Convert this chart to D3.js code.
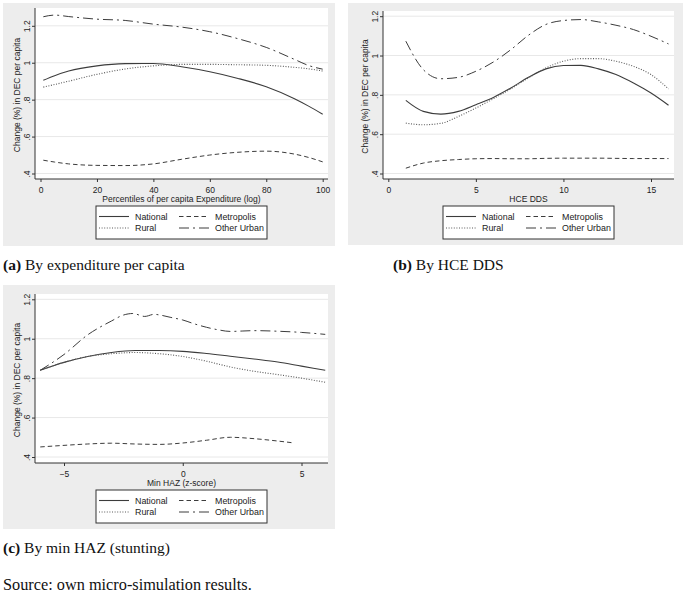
<!DOCTYPE html>
<html><head><meta charset="utf-8">
<script src="https://cdn.jsdelivr.net/npm/d3@7"></script>
<style>body{margin:0;background:#fff;} svg{display:block;}</style>
</head><body>
<svg id="chart" width="685" height="601"></svg>
<script>
// ---------- DATA ----------
const seriesNames = ["National", "Rural", "Metropolis", "Other Urban"];
const yTicks = [0.4, 0.6, 0.8, 1.0, 1.2];
const yTickLabels = [".4", ".6", ".8", "1", "1.2"];
const yTitle = "Change (%) in DEC per capita";

// (a) By expenditure per capita
const aX = [1, 5, 10, 20, 30, 40, 50, 60, 70, 80, 90, 95, 100];
const aNational   = [0.905, 0.930, 0.955, 0.983, 0.995, 0.996, 0.978, 0.951, 0.915, 0.870, 0.805, 0.765, 0.721];
const aRural      = [0.868, 0.882, 0.900, 0.937, 0.966, 0.983, 0.991, 0.991, 0.989, 0.986, 0.975, 0.967, 0.955];
const aMetropolis = [0.472, 0.462, 0.452, 0.444, 0.443, 0.452, 0.477, 0.500, 0.515, 0.521, 0.505, 0.487, 0.463];
const aOtherUrban = [1.249, 1.258, 1.250, 1.236, 1.229, 1.209, 1.193, 1.168, 1.130, 1.083, 1.018, 0.985, 0.965];
const aXTicks = [0, 20, 40, 60, 80, 100];
const aXTitle = "Percentiles of per capita Expenditure (log)";
const aCaption = ["(a)", " By expenditure per capita"];

// (b) By HCE DDS
const bX = [1, 2, 3, 4, 5, 6, 7, 8, 9, 10, 11, 12, 13, 14, 15, 16];
const bNational   = [0.772, 0.716, 0.702, 0.716, 0.750, 0.787, 0.835, 0.889, 0.932, 0.949, 0.950, 0.932, 0.903, 0.860, 0.809, 0.747];
const bRural      = [0.656, 0.648, 0.655, 0.690, 0.733, 0.780, 0.831, 0.886, 0.937, 0.971, 0.984, 0.984, 0.971, 0.945, 0.903, 0.830];
const bMetropolis = [0.427, 0.453, 0.465, 0.471, 0.475, 0.476, 0.475, 0.475, 0.477, 0.478, 0.478, 0.478, 0.477, 0.476, 0.476, 0.476];
const bOtherUrban = [1.073, 0.928, 0.882, 0.889, 0.920, 0.967, 1.030, 1.103, 1.158, 1.178, 1.183, 1.171, 1.154, 1.132, 1.098, 1.059];
const bXTicks = [0, 5, 10, 15];
const bXTitle = "HCE DDS";
const bCaption = ["(b)", " By HCE DDS"];

// (c) By min HAZ (stunting)
const cX = [-6, -5, -4, -3, -2, -1, 0, 1, 2, 3, 4, 5, 6];
const cNational = [0.840, 0.880, 0.910, 0.930, 0.940, 0.940, 0.936, 0.925, 0.911, 0.897, 0.882, 0.861, 0.840];
const cRural    = [0.840, 0.880, 0.910, 0.924, 0.930, 0.924, 0.910, 0.886, 0.857, 0.835, 0.818, 0.800, 0.779];
const cMetroX = [-6, -5, -4, -3, -2, -1, 0, 1, 2, 3, 4, 4.7];
const cMetropolis = [0.451, 0.459, 0.466, 0.470, 0.466, 0.464, 0.471, 0.485, 0.500, 0.493, 0.481, 0.471];
const cOtherX = [-6, -5, -4, -3, -2.5, -2.1, -1.6, -1.2, -1, -0.5, 0, 0.5, 1, 1.5, 2, 2.5, 3, 4, 5, 6];
const cOtherUrban = [0.840, 0.920, 1.020, 1.090, 1.120, 1.128, 1.113, 1.124, 1.121, 1.108, 1.095, 1.075, 1.058, 1.045, 1.037, 1.039, 1.041, 1.038, 1.032, 1.022];
const cXTicks = [-5, 0, 5];
const cXTitle = "Min HAZ (z-score)";
const cCaption = ["(c)", " By min HAZ (stunting)"];

const sourceNote = "Source: own micro-simulation results.";

// ---------- STYLE ----------
const sansFont = "'Liberation Sans', Arial, Helvetica, sans-serif";
const serifFont = "'Liberation Serif', 'Times New Roman', serif";
const lineStyle = {
  "National":    { dash: null,        color: "#3c3c3c", width: 1.1 },
  "Rural":       { dash: "1,1.6",     color: "#5a5a5a", width: 1.1 },
  "Metropolis":  { dash: "4.5,3",     color: "#3c3c3c", width: 1.0 },
  "Other Urban": { dash: "10,4,2,4",  color: "#3c3c3c", width: 1.0 }
};

const svg = d3.select("#chart");

function drawPanel(cfg) {
  const g = svg.append("g");
  const [bx0, by0, bx1, by1] = cfg.bg;
  const [px0, py0, px1, py1] = cfg.plot;
  g.append("rect").attr("x", bx0).attr("y", by0).attr("width", bx1 - bx0).attr("height", by1 - by0).attr("fill", "#ededed");
  g.append("rect").attr("x", px0).attr("y", py0).attr("width", px1 - px0).attr("height", py1 - py0).attr("fill", "#ffffff");

  const x = d3.scaleLinear().domain(cfg.xDom).range(cfg.xRange);
  const y = d3.scaleLinear().domain([0.4, 1.2]).range(cfg.yRange);

  // gridlines
  g.append("g").selectAll("line").data(yTicks).join("line")
    .attr("x1", px0).attr("x2", px1)
    .attr("y1", d => y(d)).attr("y2", d => y(d))
    .attr("stroke", "#e8e8e8").attr("stroke-width", 1);

  // series
  const line = d3.line().x(d => x(d[0])).y(d => y(d[1])).curve(d3.curveMonotoneX);
  cfg.series.forEach(s => {
    const st = lineStyle[s.name];
    const pts = s.xs.map((xv, i) => [xv, s.ys[i]]);
    g.append("path").datum(pts).attr("d", line)
      .attr("fill", "none").attr("stroke", st.color).attr("stroke-width", st.width)
      .attr("stroke-dasharray", st.dash);
  });

  // y axis
  const yAxis = d3.axisLeft(y).tickValues(yTicks).tickSize(3).tickFormat((d, i) => yTickLabels[i]);
  const ya = g.append("g").attr("transform", `translate(${px0},0)`).call(yAxis);
  ya.select(".domain").remove();
  ya.selectAll(".tick line").attr("stroke", "#333");
  ya.selectAll(".tick text")
    .attr("transform", "rotate(-90)")
    .attr("x", 0).attr("y", -5.5).attr("dy", 0)
    .attr("text-anchor", "middle")
    .attr("font-family", sansFont).attr("font-size", 8.5).attr("fill", "#222");
  g.append("line").attr("x1", px0).attr("x2", px0).attr("y1", py0).attr("y2", py1)
    .attr("stroke", "#333").attr("stroke-width", 1);

  // x axis
  const xAxis = d3.axisBottom(x).tickValues(cfg.xTicks).tickSize(3).tickPadding(4.5);
  const xa = g.append("g").attr("transform", `translate(0,${py1})`).call(xAxis);
  xa.select(".domain").remove();
  xa.selectAll(".tick line").attr("stroke", "#333");
  xa.selectAll(".tick text").attr("font-family", sansFont).attr("font-size", 8.5).attr("fill", "#222");
  g.append("line").attr("x1", px0).attr("x2", px1).attr("y1", py1).attr("y2", py1)
    .attr("stroke", "#333").attr("stroke-width", 1);

  // titles
  const cx = (px0 + px1) / 2;
  g.append("text").attr("x", cx).attr("y", py1 + 20).attr("dy", "0.35em")
    .attr("text-anchor", "middle").attr("font-family", sansFont).attr("font-size", 8.5).attr("fill", "#222")
    .text(cfg.xTitle);
  const cy = (py0 + py1) / 2 + 1.5;
  g.append("text").attr("transform", `translate(${px0 - 17.5},${cy}) rotate(-90)`)
    .attr("dy", "0.35em").attr("text-anchor", "middle")
    .attr("font-family", sansFont).attr("font-size", 8.5).attr("fill", "#222")
    .text(yTitle);

  // legend
  const lw = 171, lx = cx - lw / 2, ly = py1 + 27, lh = 33;
  g.append("rect").attr("x", lx).attr("y", ly).attr("width", lw).attr("height", lh)
    .attr("fill", "#fff").attr("stroke", "#333").attr("stroke-width", 1);
  const order = [["National", 0, 0], ["Metropolis", 1, 0], ["Rural", 0, 1], ["Other Urban", 1, 1]];
  order.forEach(([name, col, row]) => {
    const st = lineStyle[name];
    const sx = lx + (col === 0 ? 3 : 83);
    const ry = ly + 10.5 + row * 11.5;
    g.append("line").attr("x1", sx).attr("x2", sx + 30).attr("y1", ry).attr("y2", ry)
      .attr("stroke", st.color).attr("stroke-width", st.width).attr("stroke-dasharray", st.dash);
    g.append("text").attr("x", sx + 36).attr("y", ry).attr("dy", "0.35em")
      .attr("font-family", sansFont).attr("font-size", 8.9).attr("fill", "#222").text(name);
  });
}

drawPanel({
  bg: [3, 3, 335, 246], plot: [35, 8, 328, 179],
  xDom: [0, 100], xRange: [40.5, 322.7], yRange: [173.5, 25.8],
  xTicks: aXTicks, xTitle: aXTitle,
  series: [
    { name: "National", xs: aX, ys: aNational },
    { name: "Rural", xs: aX, ys: aRural },
    { name: "Metropolis", xs: aX, ys: aMetropolis },
    { name: "Other Urban", xs: aX, ys: aOtherUrban }
  ]
});
drawPanel({
  bg: [348, 3, 683, 245], plot: [383, 11, 674, 179],
  xDom: [0, 15], xRange: [388.3, 651], yRange: [173.5, 16.2],
  xTicks: bXTicks, xTitle: bXTitle,
  series: [
    { name: "National", xs: bX, ys: bNational },
    { name: "Rural", xs: bX, ys: bRural },
    { name: "Metropolis", xs: bX, ys: bMetropolis },
    { name: "Other Urban", xs: bX, ys: bOtherUrban }
  ]
});
drawPanel({
  bg: [3, 285, 335, 529], plot: [35, 294, 328, 463],
  xDom: [-5, 5], xRange: [64, 301.5], yRange: [457, 299.3],
  xTicks: cXTicks, xTitle: cXTitle,
  series: [
    { name: "National", xs: cX, ys: cNational },
    { name: "Rural", xs: cX, ys: cRural },
    { name: "Metropolis", xs: cMetroX, ys: cMetropolis },
    { name: "Other Urban", xs: cOtherX, ys: cOtherUrban }
  ]
});

// captions
function caption(xp, yp, parts, size) {
  const t = svg.append("text").attr("x", xp).attr("y", yp)
    .attr("font-family", serifFont).attr("font-size", size).attr("fill", "#111");
  t.append("tspan").attr("font-weight", "bold").text(parts[0]);
  t.append("tspan").text(parts[1]);
}
caption(3, 270, aCaption, 15.5);
caption(393, 270, bCaption, 15.5);
caption(3, 553, cCaption, 15.5);
svg.append("text").attr("x", 3).attr("y", 590)
  .attr("font-family", serifFont).attr("font-size", 16.3).attr("fill", "#111")
  .text(sourceNote);
</script>
</body></html>
